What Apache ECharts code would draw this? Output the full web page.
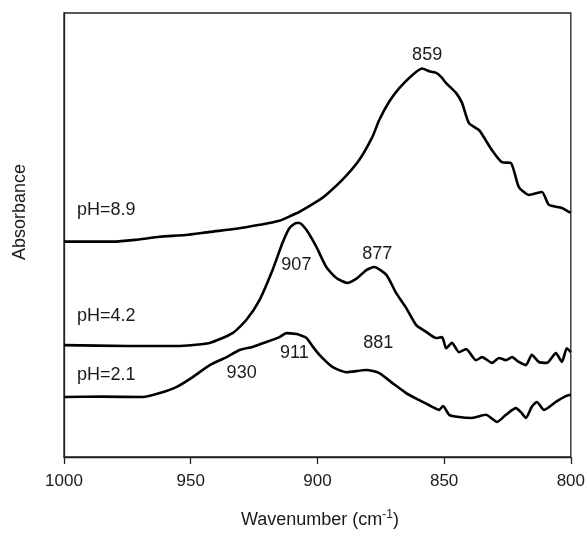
<!DOCTYPE html>
<html>
<head>
<meta charset="utf-8">
<script src="https://cdn.jsdelivr.net/npm/echarts@6/dist/echarts.min.js"></script>
<style>html,body{margin:0;padding:0;background:#fff}#c{width:588px;height:533px}</style>
</head>
<body>
<div id="c"></div>
<script>
// Wavenumber (cm^-1), absorbance (arbitrary units, offset traces)
const ph89 = [
  [1000,48.5],[980.7,48.5],[972.0,48.9],[962.2,49.6],[952.0,50.0],[942.5,50.7],[932.0,51.4],[922.8,52.3],
  [915.0,53.2],[909.8,54.5],[907.1,55.2],
  [899.2,57.9],[896.6,59.0],[890.2,62.4],[883.5,66.9],[878.3,72.1],[875.6,75.9],[871.7,80.0],
  [867.7,83.1],[862.6,86.0],[858.7,87.5],[855.5,86.8],[853.1,86.5],[851.0,85.5],[849.2,84.2],[845.3,82.0],[842.9,79.7],
  [840.2,75.2],[836.2,73.6],[831.1,69.1],[827.2,66.4],[823.6,66.2],[820.5,60.8],[816.5,59.0],
  [811.4,59.7],[808.7,56.8],[803.5,56.1],[800.8,55.2],[800,55.0]
];
const ph42 = [
  [1000,25.2],[975.0,25.0],[955.5,25.0],[942.5,25.7],[933.5,27.9],[928.0,30.9],[922.8,35.4],[917.7,42.1],
  [913.8,48.2],[911.0,51.6],[908.3,52.7],[907.1,52.7],[904.3,51.1],[900.4,47.3],[896.5,42.8],
  [892.5,40.3],[888.2,39.2],[884.3,40.3],[880.7,42.1],[877.6,42.8],[872.8,41.0],[868.9,36.9],
  [865.0,33.6],[861.0,29.7],[857.1,28.2],[853.1,26.8],[850.8,27.0],[849.2,24.5],[846.9,25.7],
  [844.1,23.6],[841.3,24.3],[837.4,21.8],[835.0,22.5],[831.1,21.2],[828.3,22.3],[825.6,21.8],
  [823.2,22.5],[820.5,21.4],[817.7,20.7],[815.4,23.0],[812.6,21.4],[809.4,21.2],[805.9,23.4],
  [803.5,21.4],[801.6,24.5],[800,23.6]
];
const ph21 = [
  [1000,13.5],[985.0,13.6],[968.9,13.5],[962.2,14.4],[955.5,15.8],[949.2,18.0],[942.5,20.7],[935.8,22.5],
  [930.7,24.1],[925.6,24.8],[920.1,25.9],[915.0,27.0],[912.2,27.9],[908.3,27.7],[907.1,27.5],
  [904.3,26.8],[902.0,25.0],[899.2,23.0],[894.1,20.3],[888.6,19.1],[880.7,19.6],[875.6,18.9],
  [870.5,16.7],[865.0,14.4],[859.8,12.8],[854.7,11.3],[852.0,10.6],[850.4,11.5],[848.0,9.5],
  [844.1,9.0],[839.0,8.8],[833.5,9.5],[829.1,7.9],[825.6,9.5],[821.7,11.0],[819.7,10.1],
  [817.7,8.8],[815.4,11.3],[813.4,12.4],[810.6,10.6],[805.9,12.4],[802.0,13.7],[800,14.0]
];
const xTicks = [1000, 950, 900, 850, 800];
const peakLabels = [
  {value:[856.7,90.5], name:'859'},
  {value:[908.3,43.2], name:'907'},
  {value:[876.4,45.7], name:'877'},
  {value:[909.1,23.4], name:'911'},
  {value:[929.9,18.9], name:'930'},
  {value:[876.0,25.7], name:'881'}
];
const traceLabels = [
  {value:[994.9,55.6], name:'pH=8.9'},
  {value:[994.9,31.8], name:'pH=4.2'},
  {value:[994.9,18.5], name:'pH=2.1'}
];

const FONT = 'Liberation Sans, Arial, sans-serif';
const TXT = '#1a1a1a';
const chart = echarts.init(document.getElementById('c'), null, {renderer:'canvas'});
const lineStyle = {color:'#000', width:2.6};
chart.setOption({
  animation:false,
  backgroundColor:'#fff',
  grid:{left:64, right:16, top:13, bottom:76, show:true, borderColor:'#222', borderWidth:1.3, backgroundColor:'transparent'},
  xAxis:{
    type:'value', inverse:true, min:800, max:1000, interval:50,
    axisLine:{show:true, lineStyle:{color:'#222', width:1.3}},
    axisTick:{show:true, inside:false, length:7, lineStyle:{color:'#222', width:1.3}},
    axisLabel:{show:true, margin:16, fontSize:17, color:TXT, fontFamily:FONT,
      formatter: v => xTicks.includes(v) ? String(v) : ''},
    splitLine:{show:false}
  },
  yAxis:{
    type:'value', min:0, max:100,
    axisLine:{show:true, lineStyle:{color:'#222', width:1.3}},
    axisTick:{show:false}, axisLabel:{show:false}, splitLine:{show:false}
  },
  series:[
    {type:'line', data:ph89, showSymbol:false, smooth:0.2, lineStyle},
    {type:'line', data:ph42, showSymbol:false, smooth:0.2, lineStyle},
    {type:'line', data:ph21, showSymbol:false, smooth:0.2, lineStyle},
    {type:'scatter', data:peakLabels, symbolSize:0, silent:true, itemStyle:{opacity:1},
      label:{show:true, position:'inside', formatter:'{b}', fontSize:18, color:TXT, fontFamily:FONT}},
    {type:'scatter', data:traceLabels, symbolSize:0, silent:true, itemStyle:{opacity:1},
      label:{show:true, position:'inside', align:'left', formatter:'{b}', fontSize:18, color:TXT, fontFamily:FONT}}
  ],
  graphic:[
    {type:'text', x:20, y:212, rotation:Math.PI/2,
      style:{text:'Absorbance', align:'center', verticalAlign:'middle', fontSize:18, fill:TXT, fontFamily:FONT}},
    {type:'text', x:320, y:520,
      style:{text:'{a|Wavenumber (cm}{s|-1}{a|)}', align:'center', verticalAlign:'middle',
        rich:{a:{fontSize:18, fontFamily:FONT, fill:TXT, lineHeight:22},
              s:{fontSize:12, fontFamily:FONT, fill:TXT, lineHeight:22, verticalAlign:'top', padding:[0,0,6,0]}}}}
  ]
});
</script>
</body>
</html>
